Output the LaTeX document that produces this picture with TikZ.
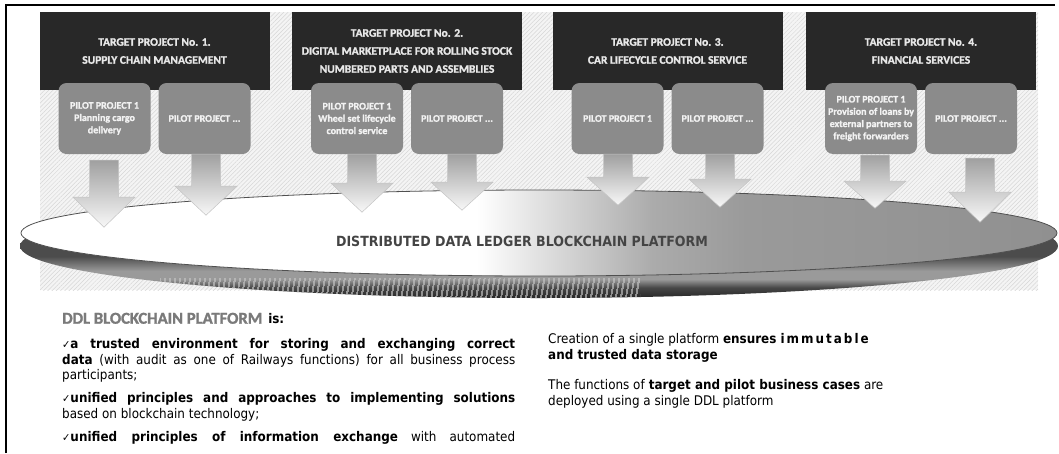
\documentclass[tikz,border=0pt]{standalone}
\usepackage{fontspec}
\setmainfont{Carlito}
\newfontfamily\calfont{Carlito}[BoldFeatures={FakeBold=1.5}]
\newfontfamily\tahfont{DejaVu Sans}[FakeStretch=0.9]
\usetikzlibrary{patterns.meta,calc}
\definecolor{tbox}{HTML}{282828}
\definecolor{ttext}{HTML}{E8E8E8}
\definecolor{pbox}{HTML}{8B8B8B}
\definecolor{ptext}{HTML}{F2F2F2}
\definecolor{hatchbg}{HTML}{F4F4F4}
\definecolor{hatchline}{HTML}{D6D6D6}
\definecolor{arrtop}{HTML}{A0A0A0}
\definecolor{arrbot}{HTML}{F8F8F8}
\definecolor{arrline}{HTML}{C4C4C4}
\definecolor{dsA}{HTML}{D2D2D2}
\definecolor{dsB}{HTML}{ABABAB}
\definecolor{dsC}{HTML}{9A9A9A}
\definecolor{dsD}{HTML}{909090}
\definecolor{rimD}{HTML}{262626}
\definecolor{rimM}{HTML}{474747}
\definecolor{rimL}{HTML}{9A9A9A}
\definecolor{rimN}{HTML}{4C4C4C}
\definecolor{disctext}{HTML}{444444}
\definecolor{ddlgray}{HTML}{7A7A7A}
\definecolor{discline}{HTML}{505050}
\pgfdeclarehorizontalshading{discsurf}{100bp}{color(0bp)=(white); color(47bp)=(white); color(51.5bp)=(dsA); color(55.5bp)=(dsB); color(60bp)=(dsC); color(75bp)=(dsD); color(100bp)=(dsD)}
\pgfdeclareverticalshading{rimshade}{100bp}{color(0bp)=(rimD); color(25bp)=(rimD); color(30bp)=(rimM); color(34bp)=(rimL); color(38bp)=(rimL); color(45bp)=(rimN); color(100bp)=(rimN)}
\newcommand\chk{{\tahfont\mdseries\fontsize{11}{11}\selectfont ✓}}
\newcommand\blockarr[5]{%
  \begin{scope}[shift={(#1.south)}]
    \path[blockarrow] (#2-14.5,#3) -- (#2+14.5,#3) -- (#2+14.5,#4) -- (#2+31,#4)
      -- (#2,#5) -- (#2-31,#4) -- (#2-14.5,#4) -- cycle;
  \end{scope}}
\begin{document}
\begin{tikzpicture}[x=1pt,y=-1pt,
  target/.style={fill=tbox, text=ttext, minimum width=230pt, minimum height=78pt, inner sep=0pt,
    font=\calfont\bfseries\fontsize{11.5}{18}\selectfont, align=center},
  pilot/.style={fill=pbox, rounded corners=8pt, text=ptext, minimum width=92pt, minimum height=71pt,
    inner sep=0pt, font=\calfont\bfseries\fontsize{10}{12.3}\selectfont, align=center},
  blockarrow/.style={top color=arrtop, bottom color=arrbot, draw=arrline, line width=0.5pt},
  body/.style={anchor=base west, inner sep=0pt, font=\tahfont\fontsize{13.3}{16}\selectfont, text=black},
]
\useasboundingbox (0,0) rectangle (1059,453);
\fill[white] (0,0) rectangle (1059,453);
% frame
\draw[line width=2pt] (6,453) -- (6,5) -- (1055,5);
% hatched background
\fill[hatchbg] (40,12) rectangle (1038,290);
\fill[pattern={Lines[angle=45,distance=3pt,line width=0.5pt]}, pattern color=hatchline] (40,12) rectangle (1038,290);
% target projects
\node[target] (t1) at (154.5,51) {TARGET PROJECT No. 1.\\SUPPLY CHAIN MANAGEMENT};
\node[target] (t2) at (407,51) {TARGET PROJECT No. 2.\\DIGITAL MARKETPLACE FOR ROLLING STOCK\\NUMBERED PARTS AND ASSEMBLIES};
\node[target] (t3) at (667.5,51) {TARGET PROJECT No. 3.\\CAR LIFECYCLE CONTROL SERVICE};
\node[target] (t4) at (921,51) {TARGET PROJECT No. 4.\\FINANCIAL SERVICES};
% pilot projects
\node[pilot] (p1a) at (104.5,118.5) {PILOT PROJECT 1\\Planning cargo\\delivery};
\node[pilot] (p1b) at (204.5,118.5) {PILOT PROJECT ...};
\node[pilot] (p2a) at (357,118.5) {PILOT PROJECT 1\\Wheel set lifecycle\\control service};
\node[pilot] (p2b) at (457,118.5) {PILOT PROJECT ...};
\node[pilot] (p3a) at (617.5,118.5) {PILOT PROJECT 1};
\node[pilot] (p3b) at (717.5,118.5) {PILOT PROJECT ...};
\node[pilot] (p4a) at (871,118.5) {PILOT PROJECT 1\\Provision of loans by\\external partners to\\freight forwarders};
\node[pilot] (p4b) at (971,118.5) {PILOT PROJECT ...};
% disc: rim
\path[shading=rimshade] (539,246) ellipse [x radius=519, y radius=52];
\begin{scope}
  \clip (539,246) ellipse [x radius=519, y radius=52];
  \fill[pattern={Lines[angle=80,distance=4pt,line width=1.2pt]}, pattern color=gray!45] (160,278) rectangle (640,300);
\end{scope}
% disc: surface
\path[shading=discsurf, draw=discline, line width=0.8pt] (539,233) ellipse [x radius=518, y radius=43];
\node[font=\tahfont\bfseries\fontsize{14}{16}\selectfont, text=disctext, inner sep=0pt] (ddlplat) at (522,241) {DISTRIBUTED DATA LEDGER BLOCKCHAIN PLATFORM};
% block arrows from pilots to the platform
\blockarr{p1a}{-0.5}{6}{43}{73}
\blockarr{p1b}{1.5}{0}{32}{61}
\blockarr{p2a}{5}{0}{29}{58}
\blockarr{p2b}{5}{0}{28}{56}
\blockarr{p3a}{0.5}{0}{23}{51}
\blockarr{p3b}{2.5}{0}{25}{53}
\blockarr{p4a}{4}{1}{27}{54}
\blockarr{p4b}{9}{4}{38}{68}
% bottom-left text
\node[anchor=base west, inner sep=0pt] (ddl) at (62,323.7) {{\calfont\bfseries\fontsize{16.6}{18}\selectfont\color{ddlgray}DDL BLOCKCHAIN PLATFORM}\hspace{6pt}{\tahfont\bfseries\fontsize{13.3}{16}\selectfont is:}};
\node[body] (l1) at (62,348) {\makebox[453pt][s]{\chk\textbf{a trusted environment for storing and exchanging correct}}};
\node[body] (l2) at (62,364) {\makebox[453pt][s]{\textbf{data} (with audit as one of Railways functions) for all business process}};
\node[body] (l3) at (62,379.7) {participants;};
\node[body] (l4) at (62,402.3) {\makebox[453pt][s]{\chk\textbf{unified principles and approaches to implementing solutions}}};
\node[body] (l5) at (62,418) {based on blockchain technology;};
\node[body] (l6) at (62,441.3) {\makebox[453pt][s]{\chk\textbf{unified principles of information exchange} with automated}};
% bottom-right text
\node[body] (r1) at (548,343) {Creation of a single platform \textbf{ensures {\addfontfeature{LetterSpace=15}immutable}}};
\node[body] (r2) at (548,359) {\textbf{and trusted data storage}};
\node[body] (r3) at (548,389) {The functions of \textbf{target and pilot business cases} are};
\node[body] (r4) at (548,405) {deployed using a single DDL platform};
\end{tikzpicture}
\end{document}
